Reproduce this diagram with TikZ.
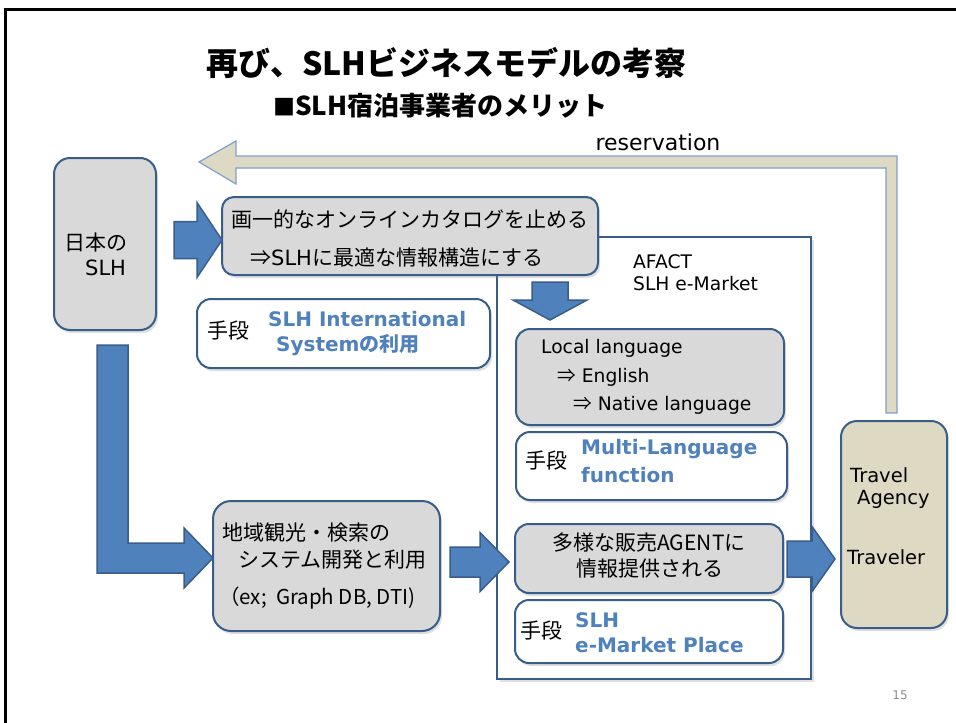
\documentclass[tikz,border=0pt]{standalone}
\usepackage{fontspec}
\setmainfont{Noto Sans CJK JP}
\newfontfamily\latfont{DejaVu Sans}
\usetikzlibrary{calc,shadows}

\definecolor{boxline}{HTML}{385D8A}
\definecolor{arrowblue}{HTML}{4F81BD}
\definecolor{boxgray}{HTML}{D9D9D9}
\definecolor{tanfill}{HTML}{DDD9C3}
\definecolor{tanline}{HTML}{7F9FCF}
\definecolor{linkblue}{HTML}{4F81BD}
\definecolor{pagegray}{HTML}{8C8C8C}

\tikzset{
  graybox/.style={draw=boxline, line width=2pt, fill=boxgray, rounded corners=14pt,
    inner sep=0pt, drop shadow={opacity=0.25, shadow xshift=2pt, shadow yshift=-3pt}},
  whitebox/.style={graybox, fill=white},
  blockarrow/.style={draw=boxline, line width=1.5pt, fill=arrowblue, line join=miter},
  txt/.style={anchor=west, inner sep=0pt, font=\fontsize{21}{25}\selectfont},
  lat/.style={anchor=west, inner sep=0pt, font=\fontsize{18.7}{22}\selectfont\latfont},
  bluetxt/.style={anchor=west, inner sep=0pt, text=linkblue,
    font=\fontsize{20}{23}\selectfont\bfseries\latfont}
}

% right and down block arrows: tail, tip, shaft half, head half, head length
\newcommand\rblock[5]{\filldraw[blockarrow] ($(#1)+(0,-#3)$) -- ($(#2)+(-#5,-#3)$) -- ($(#2)+(-#5,-#4)$) -- (#2) -- ($(#2)+(-#5,#4)$) -- ($(#2)+(-#5,#3)$) -- ($(#1)+(0,#3)$) -- cycle;}
\newcommand\dblock[5]{\filldraw[blockarrow] ($(#1)+(-#3,0)$) -- ($(#2)+(-#3,-#5)$) -- ($(#2)+(-#4,-#5)$) -- (#2) -- ($(#2)+(#4,-#5)$) -- ($(#2)+(#3,-#5)$) -- ($(#1)+(#3,0)$) -- cycle;}

\begin{document}
\begin{tikzpicture}[x=1pt,y=-1pt]
\useasboundingbox (0,0) rectangle (956,723);

% slide frame
\draw[line width=3pt] (5,723) -- (5,9) -- (956,9);

% title
\node[anchor=west, inner sep=0pt, font=\fontsize{32}{36}\selectfont\bfseries] (title) at (206,63) {再び、SLHビジネスモデルの考察};
\node[anchor=west, inner sep=0pt, font=\fontsize{26}{30}\selectfont\bfseries] (subtitle) at (273,106) {{\fontsize{22}{26}\selectfont ■}SLH宿泊事業者のメリット};

% reservation back to SLH
\filldraw[fill=tanfill, draw=tanline, line width=1.2pt] (199,162) -- (236,141) -- (236,156) -- (897,156) -- (897,413)
  -- (886,413) -- (886,168) -- (236,168) -- (236,184) -- cycle;
\node[lat, anchor=center, font=\fontsize{22}{26}\selectfont\latfont] (resv) at (658,142) {reservation};

% boxes
\node[graybox, rounded corners=16pt, minimum width=102pt, minimum height=172pt] (nihon) at (105,244) {};
\node[draw=boxline, line width=2.2pt, fill=white, inner sep=0pt, minimum width=314pt, minimum height=442pt,
  drop shadow={opacity=0.25, shadow xshift=3pt, shadow yshift=-3pt}] (afact) at (654,458) {};
\node[graybox, rounded corners=12pt, minimum width=376pt, minimum height=78pt] (catalog) at (410,236) {};
\node[whitebox, minimum width=293pt, minimum height=69pt] (means1) at (343.5,333.5) {};
\node[graybox, minimum width=268pt, minimum height=96pt] (local) at (650,377) {};
\node[whitebox, minimum width=271pt, minimum height=68pt] (multi) at (651.5,466) {};
\node[graybox, rounded corners=18pt, minimum width=227pt, minimum height=130pt] (region) at (326.5,566) {};
\node[graybox, minimum width=268pt, minimum height=69pt] (agent) at (649,558.5) {};
\node[whitebox, minimum width=268pt, minimum height=63pt] (means3) at (649,631.5) {};
\node[graybox, fill=tanfill, rounded corners=16pt, minimum width=106pt, minimum height=207pt] (travel) at (894,524.5) {};

% block arrows
\coordinate (a1s) at (174,240);  \coordinate (a1e) at (222,240);
\coordinate (a2s) at (450,562);  \coordinate (a2e) at (509,562);
\coordinate (a3s) at (787,559);  \coordinate (a3e) at (835,559);
\coordinate (a4s) at (550,282);  \coordinate (a4e) at (550,320);
\rblock{a1s}{a1e}{18.5}{37.5}{25}
\rblock{a2s}{a2e}{15}{29.5}{29}
\rblock{a3s}{a3e}{18}{32.5}{23}
\dblock{a4s}{a4e}{18}{37}{20}
\filldraw[blockarrow] (97,345) -- (128,345) -- (128,543) -- (184,543) -- (184,528) -- (213,558)
  -- (184,588) -- (184,573) -- (97,573) -- cycle;

% texts
\node[txt] (n1) at (64,243) {日本の};
\node[lat, font=\fontsize{21}{25}\selectfont\latfont] (n2) at (85,268) {SLH};
\node[txt] (c1) at (231,219) {画一的なオンラインカタログを止める};
\node[txt] (c2) at (250,258) {⇒{\latfont SLH}に最適な情報構造にする};
\node[txt] (m1) at (207,331) {手段};
\node[bluetxt] (m1a) at (268,319) {SLH International};
\node[bluetxt, font=\fontsize{20}{23}\selectfont\bfseries] (m1b) at (276,345) {{\latfont System}の利用};
\node[lat] (af1) at (633,262) {AFACT};
\node[lat] (af2) at (633,284) {SLH e-Market};
\node[lat] (l1) at (541,348) {Local language};
\node[lat] (l2) at (557,377) {{\rmfamily ⇒}\ English};
\node[lat] (l3) at (573,405) {{\rmfamily ⇒}\ Native language};
\node[txt] (m2) at (525,461) {手段};
\node[bluetxt] (m2a) at (581,449) {Multi-Language};
\node[bluetxt] (m2b) at (581,475) {function};
\node[txt] (r1) at (222,533) {地域観光・検索の};
\node[txt] (r2) at (238,560) {システム開発と利用};
\node[txt, font=\fontsize{20.5}{24}\selectfont] (r3) at (219,598) {（ex;\ \ Graph DB, DTI)};
\node[txt, anchor=center] (g1) at (649,543) {多様な販売AGENTに};
\node[txt, anchor=center] (g2) at (650,569) {情報提供される};
\node[txt] (m3) at (520,631) {手段};
\node[bluetxt] (m3a) at (575,620) {SLH};
\node[bluetxt] (m3b) at (575,645) {e-Market Place};
\node[lat, font=\fontsize{19.5}{23}\selectfont\latfont] (tr1) at (850,475) {Travel};
\node[lat, font=\fontsize{19.5}{23}\selectfont\latfont] (tr2) at (857,499) {Agency};
\node[lat, font=\fontsize{19.5}{23}\selectfont\latfont] (tr3) at (847,557) {Traveler};
\node[lat, anchor=center, text=pagegray, font=\fontsize{12}{14}\selectfont\latfont] (page) at (900,695) {15};
\end{tikzpicture}
\end{document}
